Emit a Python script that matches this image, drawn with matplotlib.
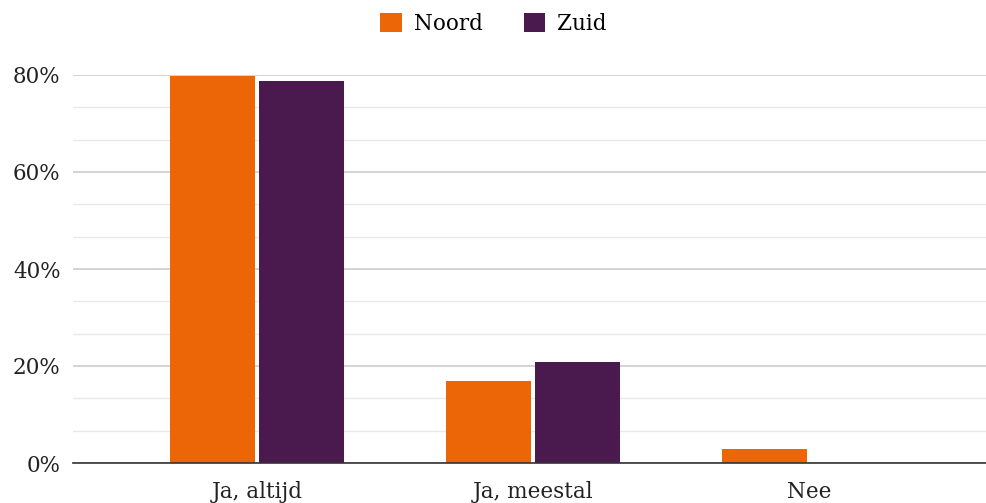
import matplotlib
matplotlib.use("Agg")
import matplotlib.pyplot as plt
from matplotlib.patches import Patch
from matplotlib.ticker import MultipleLocator, FuncFormatter
import numpy as np

categories = ["Ja, altijd", "Ja, meestal", "Nee"]
series = ["Noord", "Zuid"]
noord = [79.8, 16.9, 2.9]
zuid = [78.7, 20.8, 0.0]

ORANGE = "#EC6608"
PURPLE = "#4A1A4E"

plt.rcParams["font.family"] = ["DejaVu Serif"]

fig = plt.figure(figsize=(9.87, 5.03), dpi=100)
ax = fig.add_axes([73 / 987, 40 / 503, 914 / 987, 388 / 503])

x = np.arange(len(categories))
w = 0.308
off = 0.161
ax.bar(x - off, noord, width=w, color=ORANGE, zorder=3)
ax.bar(x + off, zuid, width=w, color=PURPLE, zorder=3)

ax.set_xlim(-0.667, 2.645)
ax.set_ylim(0, 80)
ax.yaxis.set_major_locator(MultipleLocator(20))
ax.yaxis.set_minor_locator(MultipleLocator(20 / 3))
ax.yaxis.set_major_formatter(FuncFormatter(lambda v, _: f"{v:.0f}%"))
ax.grid(axis="y", which="major", color="#cccccc", linewidth=1.2, zorder=0)
ax.grid(axis="y", which="minor", color="#e8e8e8", linewidth=1.0, zorder=0)

ax.set_xticks(x)
ax.set_xticklabels(categories)
ax.tick_params(axis="both", which="both", length=0, labelsize=15.5, colors="#222222")
ax.tick_params(axis="y", pad=9)
ax.tick_params(axis="x", pad=13)

for s in ["top", "right", "left"]:
    ax.spines[s].set_visible(False)
ax.spines["bottom"].set_color("#333333")
ax.spines["bottom"].set_linewidth(1.2)
ax.spines["bottom"].set_zorder(4)

handles = [Patch(facecolor=ORANGE, label="Noord"), Patch(facecolor=PURPLE, label="Zuid")]
fig.legend(handles=handles, loc="center", bbox_to_anchor=(0.5, 1 - 24 / 503), ncol=2,
           frameon=False, fontsize=15.5, handlelength=1.0, handleheight=1.0,
           handletextpad=0.55, columnspacing=1.9)

fig.savefig("out.png", dpi=100)
